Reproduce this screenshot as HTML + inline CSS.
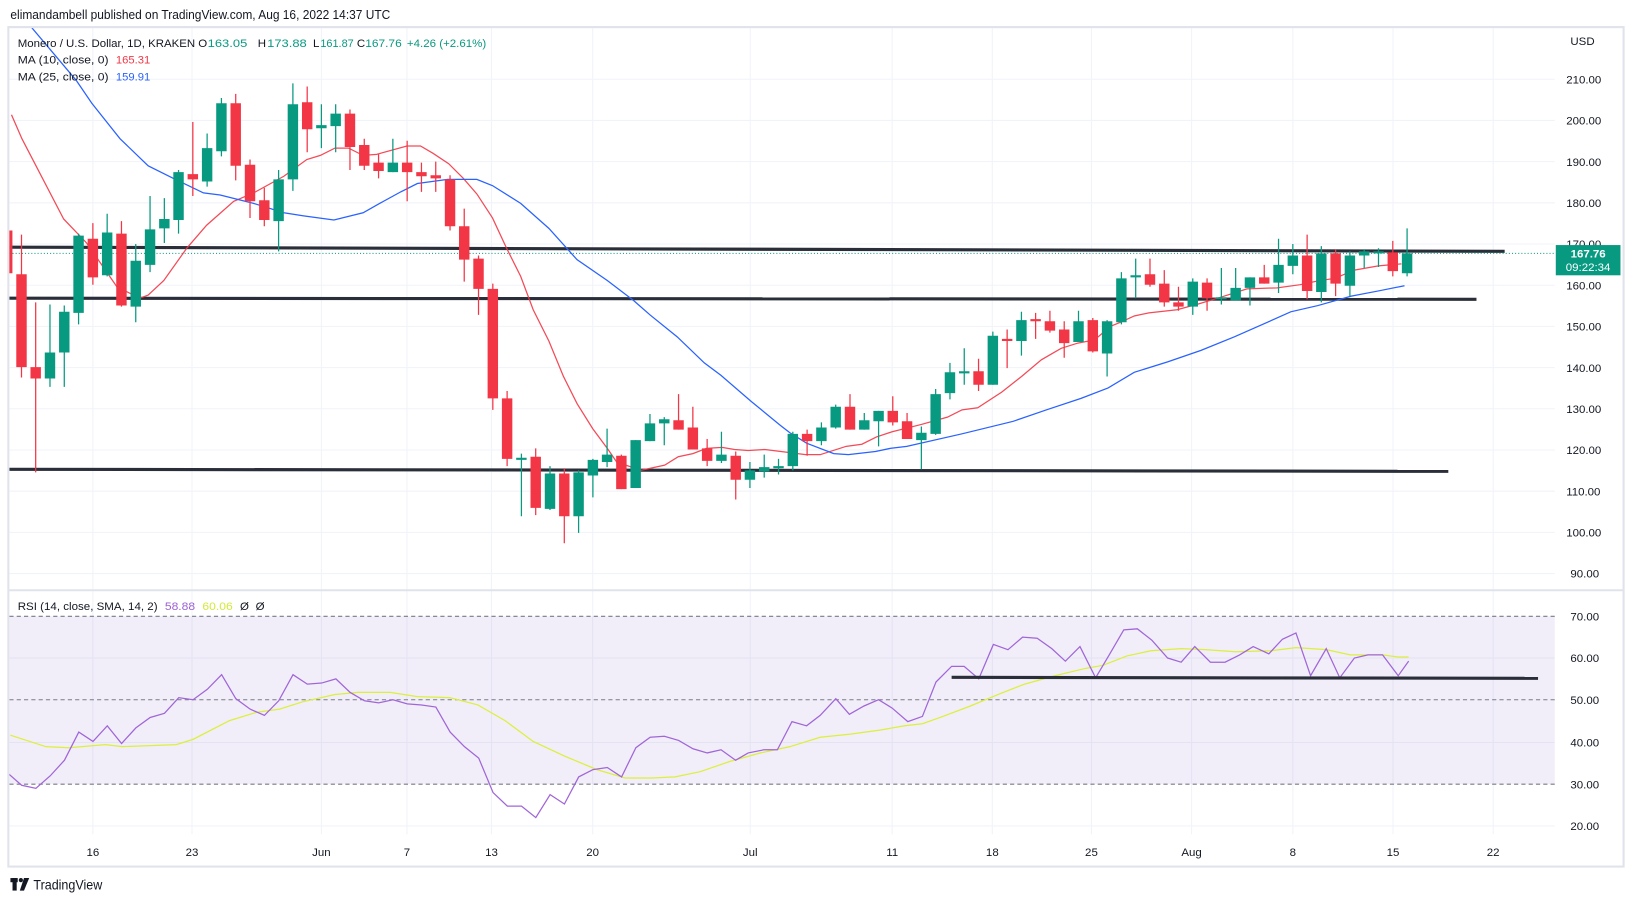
<!DOCTYPE html>
<html><head><meta charset="utf-8"><style>
html,body{margin:0;padding:0;background:#fff;}
svg{display:block;font-family:"Liberation Sans",Arial,sans-serif;}
</style></head><body>
<svg width="1633" height="901" viewBox="0 0 1565 864" preserveAspectRatio="none" xmlns="http://www.w3.org/2000/svg">
<defs>
<clipPath id="cp"><rect x="9" y="27" width="1481" height="538"/></clipPath>
<clipPath id="cr"><rect x="9" y="567" width="1481" height="233"/></clipPath>
</defs>
<rect width="1565" height="864" fill="#fff"/>
<g stroke="#f0f3fa" stroke-width="1">
<line x1="9" y1="76" x2="1490" y2="76"/><line x1="9" y1="115.5" x2="1490" y2="115.5"/><line x1="9" y1="155" x2="1490" y2="155"/><line x1="9" y1="194.5" x2="1490" y2="194.5"/><line x1="9" y1="234" x2="1490" y2="234"/><line x1="9" y1="273.5" x2="1490" y2="273.5"/><line x1="9" y1="313" x2="1490" y2="313"/><line x1="9" y1="352.5" x2="1490" y2="352.5"/><line x1="9" y1="392" x2="1490" y2="392"/><line x1="9" y1="431.5" x2="1490" y2="431.5"/><line x1="9" y1="471" x2="1490" y2="471"/><line x1="9" y1="510.5" x2="1490" y2="510.5"/><line x1="9" y1="550" x2="1490" y2="550"/>
<line x1="9" y1="631" x2="1490" y2="631"/><line x1="9" y1="712" x2="1490" y2="712"/><line x1="9" y1="792" x2="1490" y2="792"/>
<line x1="89" y1="27" x2="89" y2="800"/><line x1="184" y1="27" x2="184" y2="800"/><line x1="308" y1="27" x2="308" y2="800"/><line x1="390" y1="27" x2="390" y2="800"/><line x1="471" y1="27" x2="471" y2="800"/><line x1="568" y1="27" x2="568" y2="800"/><line x1="719" y1="27" x2="719" y2="800"/><line x1="855" y1="27" x2="855" y2="800"/><line x1="951" y1="27" x2="951" y2="800"/><line x1="1046" y1="27" x2="1046" y2="800"/><line x1="1142" y1="27" x2="1142" y2="800"/><line x1="1239" y1="27" x2="1239" y2="800"/><line x1="1335" y1="27" x2="1335" y2="800"/><line x1="1431" y1="27" x2="1431" y2="800"/>
</g>
<rect x="9" y="591" width="1481" height="161" fill="#7e57c2" fill-opacity="0.1"/>
<g stroke="#787b86" stroke-width="1" stroke-dasharray="4,3">
<line x1="9" y1="591" x2="1490" y2="591"/><line x1="9" y1="671" x2="1490" y2="671"/><line x1="9" y1="752" x2="1490" y2="752"/>
</g>
<line x1="9" y1="566" x2="1556" y2="566" stroke="#e0e3eb" stroke-width="2"/>
<rect x="8" y="26" width="1548" height="805" fill="none" stroke="#e0e3eb" stroke-width="2"/>

<g clip-path="url(#cp)">
<line x1="9" y1="237" x2="1442" y2="241" stroke="#2a2e39" stroke-width="3"/>
<line x1="9" y1="286" x2="1415" y2="287" stroke="#2a2e39" stroke-width="3"/>
<line x1="9" y1="450" x2="1388" y2="452" stroke="#2a2e39" stroke-width="3"/>
<line x1="9" y1="243" x2="1491" y2="243" stroke="#089981" stroke-width="1" stroke-dasharray="1,2"/>
<polyline fill="none" stroke="#f23645" stroke-opacity="0.9" stroke-width="1.2" points="11,110 21,133 61,210 83,233 112,275 134,286 142,283 157,269 179,238 198,216 224,193 243,185 272,169 294,153 307,149 321,142 334,142 348,149 361,148 390,140 403,140 415,147 430,157 444,171 457,186 472,209 485,237 499,265 511,297 526,327 540,361 553,387 568,411 582,430 591,443 614,451 637,446 650,438 664,435 677,430 692,429 704,431 717,432 733,431 757,434 772,436 786,436 811,428 826,426 840,419 855,414 883,407 908,400 922,393 937,391 960,376 979,361 998,345 1017,334 1033,329 1049,326 1064,313 1074,309 1087,303 1101,300 1128,297 1150,291 1170,285 1195,277 1224,276 1246,273 1265,269 1279,267 1298,259 1321,255 1343,253"/>
<polyline fill="none" stroke="#2962ff" stroke-width="1.2" points="22,16 30,26 73,77 88,99 115,133 142,159 166,171 195,185 211,187 243,195 272,204 291,207 320,211 348,204 364,195 384,184 400,176 429,172 457,172 472,178 499,195 526,219 553,249 582,269 607,288 623,302 649,323 675,348 691,360 720,385 748,408 757,415 773,425 799,435 813,436 839,433 853,430 869,428 922,416 971,404 1003,393 1036,382 1062,372 1087,357 1119,347 1151,336 1183,323 1208,312 1237,299 1263,293 1295,284 1321,279 1346,274"/>
<path stroke="#089981" stroke-width="1.2" fill="none" d="M47.9 292V371M61.6 293V371M75.3 224V311M102.7 205V265M130.1 234V309M143.8 188V261M157.5 190V233M171.1 163V224M198.5 128V179M212.2 94V150M267 163V241M280.7 80V183M308 100V142M321.7 100V146M376.5 133V165M499.7 435V495M527.1 447V489M554.5 451V511M568.2 440V477M581.8 411V448M609.2 422V468M622.9 397V423M636.6 400V427M691.4 414V444M718.7 443V468M732.4 436V458M746.1 440V455M759.8 414V451M787.2 405V427M800.9 388V411M828.3 396V412M842 394V428M883 409V450M896.7 373V417M910.4 348V383M924.1 334V369M951.5 318V369M978.9 299V341M1033.6 298V328M1061 307V361M1074.7 261V311M1088.4 248V286M1143.1 267V302M1170.5 257V292M1184.2 257V288M1197.9 266V293M1225.3 229V281M1239 234V263M1266.3 236V290M1293.7 241V284M1307.4 239V257M1321.1 238V256M1348.5 219V265"/>
<path fill="#089981" d="M42.9 338h10V363h-10zM56.6 299h10V338h-10zM70.3 226h10V300h-10zM97.7 223h10V264h-10zM125.1 250h10V294h-10zM138.8 220h10V254h-10zM152.5 210h10V219h-10zM166.1 165h10V211h-10zM193.5 142h10V174h-10zM207.2 99h10V145h-10zM262 172h10V212h-10zM275.7 100h10V172h-10zM303 120h10V123h-10zM316.7 109h10V121h-10zM371.5 156h10V165h-10zM494.7 439h10V441h-10zM522.1 454h10V488h-10zM549.5 453h10V495h-10zM563.2 441h10V456h-10zM576.8 436h10V443h-10zM604.2 422h10V468h-10zM617.9 406h10V423h-10zM631.6 402h10V406h-10zM686.4 436h10V442h-10zM713.7 451h10V460h-10zM727.4 448h10V452h-10zM741.1 447h10V449h-10zM754.8 416h10V447h-10zM782.2 410h10V423h-10zM795.9 390h10V410h-10zM823.3 403h10V412h-10zM837 394h10V404h-10zM878 415h10V422h-10zM891.7 378h10V416h-10zM905.4 357h10V377h-10zM919.1 356h10V358h-10zM946.5 322h10V369h-10zM973.9 307h10V327h-10zM1028.6 308h10V328h-10zM1056 308h10V339h-10zM1069.7 267h10V309h-10zM1083.4 264h10V266h-10zM1138.1 270h10V294h-10zM1165.5 285h10V287h-10zM1179.2 276h10V288h-10zM1192.9 266h10V276h-10zM1220.3 254h10V271h-10zM1234 245h10V255h-10zM1261.3 243h10V280h-10zM1288.7 245h10V274h-10zM1302.4 241h10V245h-10zM1316.1 241h10V243h-10zM1343.5 243h10V262h-10z"/>
<path stroke="#f23645" stroke-width="1.2" fill="none" d="M6.9 215V262M20.6 225V362M34.2 290V453M89 214V273M116.4 212V294M184.8 117V188M225.9 90V173M239.6 153V209M253.3 180V217M294.4 83V146M335.4 105V163M349.1 133V163M362.8 148V171M390.2 135V193M403.9 156V184M417.6 155V184M431.3 168V221M444.9 200V270M458.6 245V302M472.3 272V393M486 375V447M513.4 430V494M540.8 449V521M595.5 436V469M650.3 378V412M664 390V431M677.7 421V447M705.1 433V479M773.5 412V437M814.6 378V412M855.6 380V408M869.3 396V421M937.8 344V375M965.2 316V353M992.5 300V325M1006.2 298V319M1019.9 308V343M1047.3 305V338M1102.1 248V275M1115.8 259V294M1129.4 275V298M1156.8 267V298M1211.6 254V272M1252.7 225V287M1280 239V284M1334.8 231V265"/>
<path fill="#f23645" d="M1.9 221h10V262h-10zM15.6 263h10V352h-10zM29.2 352h10V363h-10zM84 229h10V266h-10zM111.4 224h10V293h-10zM179.8 167h10V172h-10zM220.9 99h10V159h-10zM234.6 158h10V193h-10zM248.3 192h10V211h-10zM289.4 98h10V124h-10zM330.4 109h10V141h-10zM344.1 139h10V159h-10zM357.8 156h10V164h-10zM385.2 156h10V165h-10zM398.9 165h10V169h-10zM412.6 168h10V171h-10zM426.3 172h10V217h-10zM439.9 217h10V249h-10zM453.6 248h10V277h-10zM467.3 277h10V382h-10zM481 382h10V440h-10zM508.4 438h10V487h-10zM535.8 454h10V495h-10zM590.5 437h10V469h-10zM645.3 403h10V412h-10zM659 410h10V431h-10zM672.7 430h10V442h-10zM700.1 437h10V460h-10zM768.5 416h10V423h-10zM809.6 390h10V412h-10zM850.6 394h10V405h-10zM864.3 404h10V421h-10zM932.8 356h10V369h-10zM960.2 325h10V327h-10zM987.5 306h10V308h-10zM1001.2 308h10V317h-10zM1014.9 316h10V329h-10zM1042.3 307h10V337h-10zM1097.1 263h10V273h-10zM1110.8 272h10V290h-10zM1124.4 290h10V294h-10zM1151.8 271h10V286h-10zM1206.6 266h10V272h-10zM1247.7 245h10V279h-10zM1275 243h10V272h-10zM1329.8 242h10V260h-10z"/>
</g>

<g clip-path="url(#cr)">
<polyline fill="none" stroke="#dcef3c" stroke-width="1.2" points="10,705 44,716 66,717 101,714 117,716 169,714 185,709 220,691 246,683 268,680 290,673 321,666 343,664 374,664 400,668 431,669 458,676 484,691 511,711 541,725 572,738 599,746 625,746 647,745 671,740 700,730 729,722 757,716 786,707 815,704 844,700 867,696 884,694 901,688 930,677 959,665 982,656 1011,648 1040,641 1057,638 1080,629 1103,624 1132,622 1155,623 1184,625 1218,624 1242,621 1271,623 1294,628 1311,628 1325,628 1340,630 1350,630"/>
<polyline fill="none" stroke="#a066d8" stroke-width="1.2" points="7,741 20.7,753 34.4,756 48.1,744 61.8,729 75.5,702 89.1,711 102.8,696 116.5,713 130.2,698 143.9,688 157.6,684 171.3,669 185,671 198.7,661 212.4,647 226,670 239.7,680 253.4,686 267.1,672 280.8,647 294.5,656 308.2,655 321.9,651 335.6,664 349.3,672 362.9,674 376.6,671 390.3,675 404,676 417.7,678 431.4,702 445.1,716 458.8,727 472.5,760 486.2,773 499.8,773 513.5,784 527.2,762 540.9,771 554.6,745 568.3,738 582,736 595.7,745 609.4,717 623.1,707 636.7,706 650.4,710 664.1,718 677.8,722 691,719 705,729 717,722 732,719 745,719 759,692 773,696 786,686 801,670 814,685 828,677 842,671 855,679 870,692 884,687 897,654 912,639 924,639 938,651 952,618 966,623 980,611 994,612 1008,622 1021,634 1035,620 1050,650 1063,628 1077,604 1090,603 1104,614 1119,631 1132,635 1145,620 1160,635 1174,635 1188,628 1201,620 1216,627 1229,613 1242,607 1256,648 1271,622 1284,650 1298,631 1311,628 1325,628 1340,648 1350,634"/>
<line x1="912" y1="649.5" x2="1474" y2="650.5" stroke="#2a2e39" stroke-width="3"/>
</g>

<g fill="#131722" font-size="11">
<text x="1505" y="43">USD</text>
<text x="1501" y="80">210.00</text><text x="1501" y="119.5">200.00</text><text x="1501" y="159">190.00</text><text x="1501" y="198.5">180.00</text><text x="1501" y="238">170.00</text><text x="1501" y="277.5">160.00</text><text x="1501" y="317">150.00</text><text x="1501" y="356.5">140.00</text><text x="1501" y="396">130.00</text><text x="1501" y="435.5">120.00</text><text x="1501" y="475">110.00</text><text x="1501" y="514.5">100.00</text><text x="1505" y="554">90.00</text>
<text x="1505" y="595">70.00</text><text x="1505" y="635">60.00</text><text x="1505" y="675">50.00</text><text x="1505" y="716">40.00</text><text x="1505" y="756">30.00</text><text x="1505" y="796">20.00</text>
<g text-anchor="middle">
<text x="89" y="821">16</text><text x="184" y="821">23</text><text x="308" y="821">Jun</text><text x="390" y="821">7</text><text x="471" y="821">13</text><text x="568" y="821">20</text><text x="719" y="821">Jul</text><text x="855" y="821">11</text><text x="951" y="821">18</text><text x="1046" y="821">25</text><text x="1142" y="821">Aug</text><text x="1239" y="821">8</text><text x="1335" y="821">15</text><text x="1431" y="821">22</text>
</g>
<rect x="1491" y="235" width="62" height="29" fill="#089981"/>
<text x="1522" y="247" text-anchor="middle" fill="#fff" font-weight="bold">167.76</text>
<text x="1522" y="260" text-anchor="middle" fill="#fff">09:22:34</text>
</g>

<text x="10" y="18" font-size="12" fill="#131722" textLength="364" lengthAdjust="spacingAndGlyphs">elimandambell published on TradingView.com, Aug 16, 2022 14:37 UTC</text>
<g font-size="11">
<text x="17" y="45" fill="#131722" textLength="170" lengthAdjust="spacingAndGlyphs">Monero / U.S. Dollar, 1D, KRAKEN</text>
<text x="190" y="45" fill="#131722">O</text><text x="199" y="45" fill="#089981" textLength="38" lengthAdjust="spacingAndGlyphs">163.05</text>
<text x="247" y="45" fill="#131722">H</text><text x="256" y="45" fill="#089981" textLength="38" lengthAdjust="spacingAndGlyphs">173.88</text>
<text x="300" y="45" fill="#131722">L</text><text x="307" y="45" fill="#089981" textLength="32" lengthAdjust="spacingAndGlyphs">161.87</text>
<text x="342" y="45" fill="#131722">C</text><text x="350" y="45" fill="#089981" textLength="35" lengthAdjust="spacingAndGlyphs">167.76</text>
<text x="390" y="45" fill="#089981" textLength="76" lengthAdjust="spacingAndGlyphs">+4.26 (+2.61%)</text>
<text x="17" y="61" fill="#131722" textLength="87" lengthAdjust="spacingAndGlyphs">MA (10, close, 0)</text>
<text x="111" y="61" fill="#f23645" textLength="33" lengthAdjust="spacingAndGlyphs">165.31</text>
<text x="17" y="77" fill="#131722" textLength="87" lengthAdjust="spacingAndGlyphs">MA (25, close, 0)</text>
<text x="111" y="77" fill="#2962ff" textLength="33" lengthAdjust="spacingAndGlyphs">159.91</text>
<text x="17" y="585" fill="#131722" textLength="134" lengthAdjust="spacingAndGlyphs">RSI (14, close, SMA, 14, 2)</text>
<text x="158" y="585" fill="#9c5fd6" textLength="29" lengthAdjust="spacingAndGlyphs">58.88</text>
<text x="194" y="585" fill="#d4e83a" textLength="29" lengthAdjust="spacingAndGlyphs">60.06</text>
<text x="230" y="585" fill="#131722">Ø</text><text x="245" y="585" fill="#131722">Ø</text>
</g>
<g>
<rect x="10" y="842" width="7" height="4" fill="#131722"/><rect x="12" y="842" width="4" height="12" fill="#131722"/>
<circle cx="20" cy="844" r="2" fill="#131722"/><polygon points="23,842 28,842 23,854 19,854" fill="#131722"/>
<text x="32" y="853" font-size="13" fill="#131722" textLength="66" lengthAdjust="spacingAndGlyphs">TradingView</text>
</g>
</svg>
</body></html>
